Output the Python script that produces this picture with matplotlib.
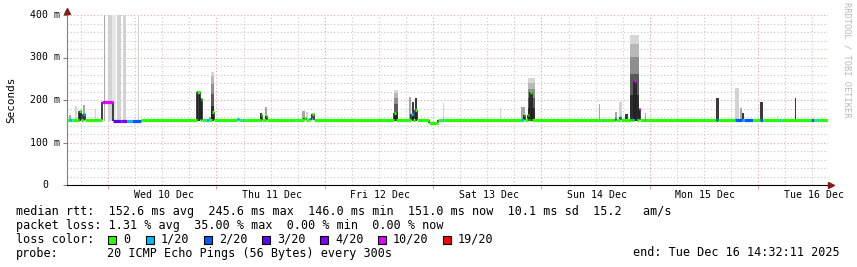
import matplotlib
matplotlib.use("Agg")
import matplotlib.pyplot as plt
import matplotlib.patches as mpatches
import numpy as np

plt.rcParams['font.family'] = ['DejaVu Sans Mono']
plt.rcParams['font.size'] = 8.45

# time axis: hours since start of the week shown (ends Tue Dec 16 14:32:11 2025)
start_hour_of_day = 14.88
span_hours = 168.6
day_labels = ["Wed 10 Dec", "Thu 11 Dec", "Fri 12 Dec", "Sat 13 Dec",
              "Sun 14 Dec", "Mon 15 Dec", "Tue 16 Dec"]

baseline_ms = 152.3

loss_colors = ['#26ff00', '#00b8ff', '#0059ff', '#5e00ff', '#7e00ff', '#dd00ff', '#ff0000']
loss_labels = ['0', '1/20', '2/20', '3/20', '4/20', '10/20', '19/20']

# median rtt deviations from baseline: (hour from, hour to, median ms, loss index)
median_segments = [
    (0.44, 1.10, 152.3, 1),
    (2.65, 3.09, 174, 0),
    (3.53, 3.97, 168, 1),
    (7.73, 10.16, 195, 5),
    (10.16, 11.92, 150, 3),
    (11.92, 13.25, 150, 4),
    (13.25, 14.35, 150, 1),
    (14.35, 16.34, 150, 2),
    (28.70, 29.36, 220, 0),
    (29.58, 30.02, 202, 0),
    (30.90, 31.57, 152.3, 1),
    (32.20, 32.67, 172, 0),
    (37.75, 38.19, 155, 1),
    (38.85, 39.30, 152.3, 1),
    (43.05, 43.27, 165, 0),
    (44.15, 44.37, 163, 0),
    (50.55, 50.78, 152.3, 1),
    (52.54, 52.98, 158, 0),
    (53.60, 53.87, 155, 1),
    (54.09, 54.31, 158, 3),
    (54.31, 54.75, 167, 0),
    (72.40, 72.85, 170, 0),
    (76.16, 76.60, 167, 1),
    (77.05, 77.49, 176, 0),
    (80.10, 82.30, 146, 0),
    (83.00, 83.45, 152.3, 1),
    (100.67, 101.10, 152.3, 1),
    (101.33, 101.55, 165, 0),
    (102.20, 102.43, 165, 0),
    (102.65, 103.10, 220, 0),
    (118.80, 119.00, 152.3, 2),
    (121.40, 121.60, 155, 3),
    (122.50, 122.70, 160, 1),
    (124.90, 125.20, 158, 2),
    (125.60, 126.00, 245.6, 5),
    (126.00, 126.30, 158, 3),
    (126.70, 126.90, 180, 5),
    (128.05, 128.27, 152.3, 5),
    (143.70, 144.20, 152.3, 2),
    (148.10, 149.60, 152.3, 2),
    (149.60, 150.10, 152.3, 1),
    (150.10, 151.90, 152.3, 2),
    (153.60, 154.10, 152.3, 2),
    (157.80, 158.10, 152.3, 1),
    (164.90, 165.40, 152.3, 2),
    (166.20, 166.50, 152.3, 1),
]

# smoke (ping spread): (hour from, hour to, top ms, shade)
smoke = [
    (0.44, 0.88, 165, 'mid'),
    (1.77, 2.21, 186, 'light'),
    (2.65, 3.09, 175, 'dark'),
    (3.53, 3.97, 188, 'mid'),
    (6.18, 6.40, 179, 'light'),
    (8.17, 8.39, 400, 'mid'),
    (9.05, 9.93, 400, 'light'),
    (9.93, 10.82, 400, 'pale'),
    (11.04, 11.92, 400, 'light'),
    (12.36, 13.02, 400, 'light'),
    (15.67, 15.90, 400, 'light'),
    (28.70, 29.36, 222, 'dark'),
    (29.58, 30.02, 205, 'dark'),
    (31.57, 32.00, 160, 'mid'),
    (32.00, 32.67, 267, 'grad'),
    (42.83, 43.27, 169, 'dark'),
    (43.93, 44.37, 184, 'mid'),
    (52.10, 52.76, 175, 'mid'),
    (52.98, 53.40, 172, 'light'),
    (72.40, 73.30, 224, 'grad'),
    (75.70, 76.16, 208, 'mid'),
    (76.38, 76.80, 195, 'dark'),
    (77.05, 77.50, 205, 'dark'),
    (83.20, 83.45, 193, 'light'),
    (96.00, 96.25, 181, 'light'),
    (100.67, 101.55, 184, 'mid'),
    (102.20, 103.76, 251, 'grad'),
    (117.90, 118.10, 190, 'mid'),
    (121.40, 121.90, 172, 'mid'),
    (122.30, 123.00, 195, 'light'),
    (123.60, 124.30, 167, 'dark'),
    (124.70, 126.70, 353, 'grad'),
    (128.05, 128.30, 170, 'mid'),
    (143.70, 144.40, 204, 'dark'),
    (148.10, 148.80, 228, 'light'),
    (149.00, 149.60, 181, 'mid'),
    (149.60, 150.10, 169, 'dark'),
    (153.60, 154.10, 195, 'dark'),
    (157.40, 157.60, 163, 'light'),
    (161.20, 161.40, 204, 'dark'),
]

median_rtt = ["152.6 ms avg", "245.6 ms max", "146.0 ms min", "151.0 ms now", "10.1 ms sd", "15.2   am/s"]
packet_loss = ["1.31 % avg", "35.00 % max", "0.00 % min", "0.00 % now"]
probe_text = "20 ICMP Echo Pings (56 Bytes) every 300s"
end_text = "end: Tue Dec 16 14:32:11 2025"

shade_colors = {'pale': '#e6e6e6', 'light': '#d2d2d2', 'mid': '#a6a6a6', 'dark': '#3a3a3a'}
grad_steps = [(0.0, 0.3, '#2c2c2c'), (0.3, 0.55, '#5a5a5a'), (0.55, 0.75, '#8e8e8e'),
              (0.75, 0.9, '#b8b8b8'), (0.9, 1.0, '#d6d6d6')]

W, H = 857, 267
fig = plt.figure(figsize=(W / 100, H / 100), dpi=100)
fig.patch.set_facecolor('white')
ax = fig.add_axes([67 / W, 82 / H, 761 / W, 170 / H])
ax.set_xlim(0, span_hours)
ax.set_ylim(0, 400)

# grid
first_midnight = 24 - start_hour_of_day
midnights = np.arange(first_midnight, span_hours, 24)
six_hours = np.arange(first_midnight - 18, span_hours, 6)
six_hours = six_hours[(six_hours > 0)]
for h in six_hours:
    if not np.any(np.isclose(midnights, h)):
        ax.axvline(h, color='#c8c8c8', lw=0.8, ls=(0, (1, 2)), zorder=0)
for v in range(20, 400, 20):
    if v % 100:
        ax.axhline(v, color='#c8c8c8', lw=0.8, ls=(0, (1, 2)), zorder=0)
for h in midnights:
    ax.axvline(h, color='#e8a0a0', lw=0.8, ls=(0, (1, 2)), zorder=0)
for v in range(100, 401, 100):
    ax.axhline(v, color='#e8a0a0', lw=0.8, ls=(0, (1, 2)), zorder=0)

# smoke
for h0, h1, top, shade in smoke:
    bottom = baseline_ms - 2
    if shade == 'grad':
        for f0, f1, c in grad_steps:
            ax.fill_between([h0, h1], bottom + (top - bottom) * f0, bottom + (top - bottom) * f1,
                            color=c, lw=0, zorder=1)
    else:
        ax.fill_between([h0, h1], bottom, top, color=shade_colors[shade], lw=0, zorder=1)

# median line, baseline in the gaps
segs = []
t = 0.0
for h0, h1, ms, loss in sorted(median_segments):
    if h0 > t:
        segs.append((t, h0, baseline_ms, 0))
    segs.append((h0, h1, ms, loss))
    t = h1
if t < span_hours:
    segs.append((t, span_hours, baseline_ms, 0))

for i, (h0, h1, ms, loss) in enumerate(segs):
    if i > 0 and abs(segs[i - 1][2] - ms) > 1:
        ax.plot([h0, h0], [segs[i - 1][2], ms], color='#202020', lw=1.2, zorder=2,
                solid_capstyle='butt')
    ax.plot([h0, h1], [ms, ms], color=loss_colors[loss], lw=2.3, zorder=3,
            solid_capstyle='butt')

# axes with arrow heads
for s in ['top', 'right']:
    ax.spines[s].set_visible(False)
ax.spines['left'].set_color('#808080')
ax.spines['bottom'].set_color('black')
ax.plot([1.0, 1.004], [0, 0], transform=ax.transAxes, color='black', lw=1, clip_on=False)
ax.plot([1.004], [0], transform=ax.transAxes, marker='>', ms=5, color='#8b1a1a',
        mec='#8b1a1a', clip_on=False, zorder=5)
ax.plot([0, 0], [1.0, 1.025], transform=ax.transAxes, color='#808080', lw=1, clip_on=False)
ax.plot([0], [1.025], transform=ax.transAxes, marker='^', ms=5, color='#8b1a1a',
        mec='#8b1a1a', clip_on=False, zorder=5)

ax.set_yticks([0, 100, 200, 300, 400])
ax.set_yticklabels([])
ax.tick_params(axis='y', length=3, color='#808080', width=0.8)
ax.set_xticks(midnights)
ax.set_xticklabels([])
ax.tick_params(axis='x', length=3, color='#e0a0a0', width=0.8)

ytick_text = ["0", "100 m", "200 m", "300 m", "400 m"]
for v, lab in zip([0, 100, 200, 300, 400], ytick_text):
    y_px = 185 - v * 170 / 400
    fig.text(45 / W, 1 - y_px / H, lab, ha='center', va='center', fontsize=7.1)
for h, lab in zip(midnights + 12.3, day_labels):
    fig.text((67 + h * 761 / span_hours) / W, 1 - 194.5 / H, lab, ha='center', va='center',
             fontsize=7.1)

fig.text(11 / W, 1 - 100 / H, "Seconds", rotation=90, ha='center', va='center', fontsize=7.9)
fig.text(847 / W, 1 - 60 / H, "RRDTOOL / TOBI OETIKER", rotation=270, ha='center', va='center',
         fontsize=6.2, color='#b8b8b8')

# legend
line1 = "median rtt:  " + "  ".join(median_rtt)
line2 = "packet loss: " + "  ".join(packet_loss)
fig.text(16 / W, 1 - 211.5 / H, line1, ha='left', va='center')
fig.text(16 / W, 1 - 225.3 / H, line2, ha='left', va='center')
fig.text(16 / W, 1 - 239.2 / H, "loss color:", ha='left', va='center')
box_x = [108, 146, 204, 262, 320, 378, 443]
for bx, c, lab in zip(box_x, loss_colors, loss_labels):
    fig.add_artist(mpatches.Rectangle((bx / W, 1 - 243.5 / H), 8 / W, 8 / H,
                                      transform=fig.transFigure, facecolor=c,
                                      edgecolor='black', lw=0.8))
    fig.text((bx + 15) / W, 1 - 239.2 / H, lab, ha='left', va='center')
fig.text(16 / W, 1 - 253 / H, "probe:", ha='left', va='center')
fig.text(107 / W, 1 - 253 / H, probe_text, ha='left', va='center')
fig.text(840 / W, 1 - 253 / H, end_text, ha='right', va='center')

fig.savefig("out.png", dpi=100, facecolor='white')
